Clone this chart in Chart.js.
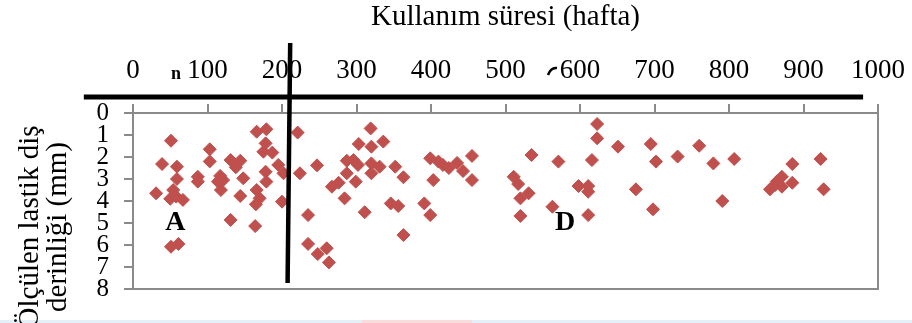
<!DOCTYPE html>
<html>
<head>
<meta charset="utf-8">
<script src="https://cdn.jsdelivr.net/npm/chart.js@4/dist/chart.umd.min.js"></script>
<style>
  body { margin: 0; background: #fff; }
  canvas { display: block; }
</style>
</head>
<body>
<canvas id="grafik" width="912" height="323"></canvas>
<script>
// kullanım süresi (hafta) ve ölçülen diş derinliği (mm)
const haftalar = [51, 39, 59, 59, 31, 54, 50, 67, 58, 51, 61, 87, 87, 103, 103, 117, 118, 131, 144, 138,
  148, 114, 121, 144, 131, 164, 166, 179, 178, 175, 187, 195, 178, 179, 166, 170, 165, 200, 202,
  221, 224, 247, 235, 235, 248, 260, 263, 267, 276, 284, 287, 287, 296, 302, 299, 303, 319, 320,
  336, 320, 320, 331, 311, 352, 363, 346, 356, 363, 391, 399, 399, 403, 410, 416, 424, 435, 443,
  455, 455, 511, 517, 520, 531, 520, 535, 571, 563, 598, 611, 611, 611, 616, 623, 623, 651, 675,
  695, 702, 698, 731, 760, 779, 791, 807, 855, 862, 871, 871, 864, 885, 885, 923, 927];
const derinlikler = [1.26, 2.32, 2.44, 3.0, 3.65, 3.5, 3.9, 3.95, 3.8, 6.08, 5.95, 2.9, 3.12, 1.65, 2.2, 2.86, 3.5, 2.14, 2.17, 2.47,
  2.97, 3.12, 3.05, 3.77, 4.86, 5.14, 0.85, 0.74, 1.38, 1.76, 1.8, 2.36, 2.67, 3.12, 3.5, 3.88, 4.15, 4.03, 2.74,
  0.89, 2.74, 2.38, 4.64, 5.95, 6.41, 6.15, 6.79, 3.35, 3.17, 3.88, 2.74, 2.17, 2.14, 2.36, 3.12, 1.41, 0.7, 1.53,
  1.3, 2.29, 2.74, 2.44, 4.51, 2.44, 2.92, 4.11, 4.23, 5.55, 4.11, 4.64, 2.06, 3.05, 2.21, 2.36, 2.5, 2.27, 2.64,
  3.05, 1.95, 2.9, 3.23, 3.88, 3.65, 4.68, 1.91, 2.21, 4.26, 3.32, 3.32, 3.58, 4.64, 2.14, 0.5, 1.15, 1.53, 3.47,
  1.41, 2.21, 4.38, 1.98, 1.49, 2.29, 4.0, 2.09, 3.47, 3.27, 2.9, 3.35, 3.12, 2.32, 3.17, 2.09, 3.47];

const xBaslik = 'Kullanım süresi (hafta)';
const yBaslik = ['Ölçülen lastik diş', 'derinliği (mm)'];
const bolgeEtiketleri = ['A', 'D'];
const bolgeX = [57, 580];
const bolgeY = [5.0, 5.0];

const noktalar = haftalar.map((h, i) => ({x: h, y: derinlikler[i]}));

const serif = "'Liberation Serif', 'Times New Roman', serif";
const gri = '#8a8a8a';

const ekstralar = {
  id: 'ekstralar',
  beforeDraw(chart) {
    const ctx = chart.ctx;
    ctx.save();
    // alttaki soluk şerit
    ctx.fillStyle = '#e4eff7';
    ctx.fillRect(0, 320, 912, 3);
    ctx.fillStyle = '#fbdcdc';
    ctx.fillRect(362, 320, 110, 3);
    ctx.restore();
  },
  afterDatasetsDraw(chart) {
    const ctx = chart.ctx;
    const a = chart.chartArea;
    const xs = chart.scales.x, ys = chart.scales.y;
    ctx.save();
    // sağ ve alt çerçeve
    ctx.strokeStyle = gri;
    ctx.lineWidth = 2;
    ctx.beginPath();
    ctx.moveTo(a.left, a.bottom);
    ctx.lineTo(a.right, a.bottom);
    ctx.lineTo(a.right, a.top);
    ctx.stroke();

    // bölge harfleri
    ctx.fillStyle = '#000';
    ctx.font = 'bold 28px ' + serif;
    ctx.textAlign = 'center';
    ctx.textBaseline = 'middle';
    bolgeEtiketleri.forEach((t, i) => {
      ctx.fillText(t, xs.getPixelForValue(bolgeX[i]), ys.getPixelForValue(bolgeY[i]));
    });

    // y ekseni başlığı
    ctx.font = '29px ' + serif;
    ctx.textBaseline = 'alphabetic';
    ctx.translate(0, 227);
    ctx.rotate(-Math.PI / 2);
    ctx.fillText(yBaslik[0], 0, 38);
    ctx.fillText(yBaslik[1], 0, 66);
    ctx.restore();
  },
  afterDraw(chart) {
    const ctx = chart.ctx;
    const xs = chart.scales.x, ys = chart.scales.y;
    ctx.save();
    ctx.strokeStyle = '#000';
    // kalın yatay çizgi
    ctx.lineWidth = 5;
    ctx.beginPath();
    ctx.moveTo(xs.getPixelForValue(-66), ys.getPixelForValue(-0.73));
    ctx.lineTo(xs.getPixelForValue(980), ys.getPixelForValue(-0.73));
    ctx.stroke();
    // kalın dikey çizgi
    ctx.lineWidth = 4.5;
    ctx.beginPath();
    ctx.moveTo(xs.getPixelForValue(211), ys.getPixelForValue(-3.18));
    ctx.lineTo(xs.getPixelForValue(207.5), ys.getPixelForValue(7.73));
    ctx.stroke();

    // etiketlerin arkasında kalmış işaret kalıntıları
    ctx.fillStyle = '#000';
    ctx.font = 'bold 18px ' + serif;
    ctx.textAlign = 'center';
    ctx.textBaseline = 'alphabetic';
    ctx.fillText('n', 176, 79);
    ctx.lineWidth = 2.5;
    ctx.beginPath();
    ctx.moveTo(548, 75);
    ctx.quadraticCurveTo(551, 67, 557, 68);
    ctx.stroke();
    ctx.restore();
  }
};

new Chart(document.getElementById('grafik'), {
  type: 'scatter',
  data: {
    datasets: [{
      data: noktalar,
      pointStyle: 'rectRot',
      pointRadius: 6.5,
      backgroundColor: '#c0504d',
      borderColor: '#c0504d',
      borderWidth: 1
    }]
  },
  options: {
    responsive: false,
    animation: false,
    devicePixelRatio: 1,
    layout: { padding: { left: 0, top: 0, right: 34, bottom: 34 } },
    plugins: {
      legend: { display: false },
      tooltip: { enabled: false }
    },
    scales: {
      x: {
        type: 'linear',
        position: 'top',
        min: 0,
        max: 1000,
        afterFit(scale) {
          scale.height = 113;
          scale.paddingLeft = 0;
          scale.paddingRight = 0;
        },
        ticks: {
          stepSize: 100,
          autoSkip: false,
          maxRotation: 0,
          padding: 17,
          color: '#000',
          font: { family: serif, size: 27 },
          callback: v => String(v)
        },
        grid: { drawOnChartArea: false, tickLength: 9, color: gri, lineWidth: 2 },
        border: { color: gri, width: 2 },
        title: {
          display: true,
          text: xBaslik,
          color: '#000',
          padding: { top: 0, bottom: 0 },
          font: { family: serif, size: 29 }
        }
      },
      y: {
        type: 'linear',
        reverse: true,
        min: 0,
        max: 8,
        afterFit(scale) {
          scale.width = 133;
          scale.paddingTop = 0;
          scale.paddingBottom = 0;
        },
        ticks: {
          stepSize: 1,
          autoSkip: false,
          padding: 15,
          color: '#000',
          font: { family: serif, size: 25, lineHeight: 1 }
        },
        grid: { drawOnChartArea: false, tickLength: 9, color: gri, lineWidth: 2 },
        border: { color: gri, width: 2 }
      }
    }
  },
  plugins: [ekstralar]
});
</script>
</body>
</html>
